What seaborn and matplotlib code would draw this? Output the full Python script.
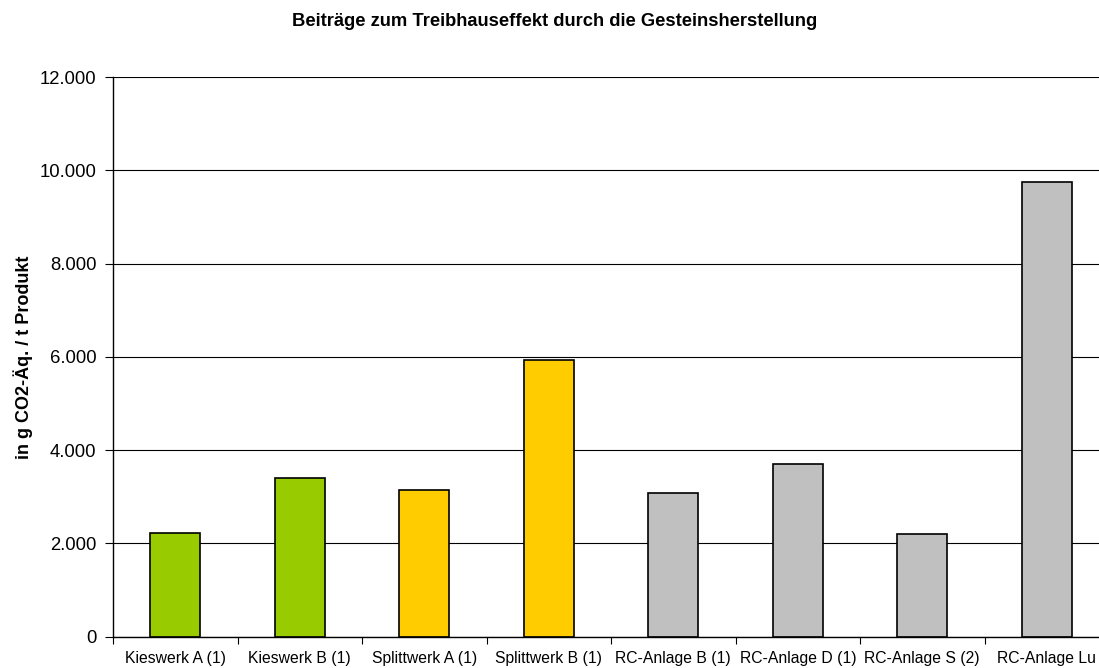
import matplotlib

matplotlib.use("Agg")
import matplotlib.pyplot as plt
import matplotlib.ticker as mticker
import numpy as np
import pandas as pd
import seaborn as sns

# data
categories = [
    "Kieswerk A (1)", "Kieswerk B (1)", "Splittwerk A (1)", "Splittwerk B (1)",
    "RC-Anlage B (1)", "RC-Anlage D (1)", "RC-Anlage S (2)", "RC-Anlage Lu",
]
groups = ["Kies", "Kies", "Splitt", "Splitt", "RC", "RC", "RC", "RC"]
values = [2220, 3400, 3150, 5930, 3080, 3700, 2200, 9750]
group_colors = {"Kies": "#99CC00", "Splitt": "#FFCC00", "RC": "#C0C0C0"}

sns.set_theme(style="white")
plt.rcParams["font.family"] = ["Liberation Sans", "DejaVu Sans"]
plt.rcParams["text.color"] = "black"
plt.rcParams["xtick.color"] = "black"
plt.rcParams["ytick.color"] = "black"

df = pd.DataFrame({"Anlage": categories, "Gruppe": groups, "Wert": values})

fig = plt.figure(figsize=(10.99, 6.68), dpi=100)
ax = fig.add_axes([113 / 1099, 31.3 / 668, 996 / 1099, 559.7 / 668])

sns.barplot(data=df, x="Anlage", y="Wert", hue="Gruppe", palette=group_colors,
            order=categories, dodge=False, width=0.4, saturation=1,
            edgecolor="black", linewidth=1.2, legend=False, ax=ax)

ax.set_ylim(0, 12000)
ax.set_xlim(-0.5, len(categories) - 0.5)
ax.yaxis.set_major_locator(mticker.MultipleLocator(2000))
ax.yaxis.set_major_formatter(
    mticker.FuncFormatter(lambda v, _: f"{v:,.0f}".replace(",", ".")))
ax.grid(axis="y", color="black", linewidth=0.8)
ax.set_axisbelow(True)

# ticks between categories, labels centred
ax.set_xticks(np.arange(-0.5, len(categories)), minor=True)
ax.tick_params(axis="x", which="major", length=0, pad=10, labelsize=11.3)
ax.tick_params(axis="x", which="minor", direction="out", length=5, width=0.8,
               color="black", bottom=True)
ax.tick_params(axis="y", direction="out", length=6, width=0.8, color="black",
               left=True, pad=6, labelsize=13.3)
ax.set_xlabel("")
ax.set_ylabel("")

for side in ["top", "right"]:
    ax.spines[side].set_visible(False)
for side in ["left", "bottom"]:
    ax.spines[side].set_color("black")
    ax.spines[side].set_linewidth(1.0)

fig.text(555 / 1099, 1 - 21 / 668,
         "Beiträge zum Treibhauseffekt durch die Gesteinsherstellung",
         ha="center", va="center", fontsize=13.2, fontweight="bold")
fig.text(23 / 1099, 1 - 357 / 668, "in g CO2-Äq. / t Produkt",
         rotation=90, ha="center", va="center", fontsize=13, fontweight="bold")

fig.savefig("out.png", dpi=100)
